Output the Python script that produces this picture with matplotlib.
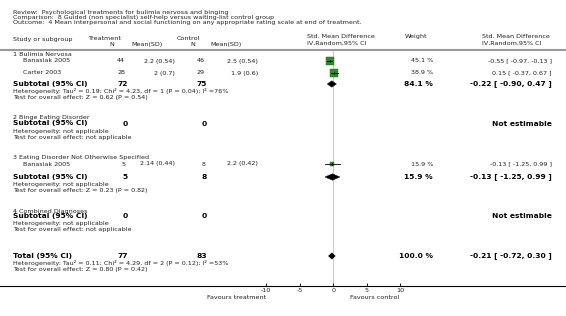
import matplotlib
matplotlib.use("Agg")
import matplotlib.pyplot as plt
from matplotlib.patches import Polygon

# ---------------- data ----------------
title_lines = [
    "Review:  Psychological treatments for bulimia nervosa and binging",
    "Comparison:  8 Guided (non specialist) self-help versus waiting-list control group",
    "Outcome:  4 Mean interpersonal and social functioning on any appropriate rating scale at end of treatment.",
]
subgroups = ["1 Bulimia Nervosa", "2 Binge Eating Disorder",
             "3 Eating Disorder Not Otherwise Specified", "4 Combined Diagnoses"]
study_names = ["Banasiak 2005", "Carter 2003", "Banasiak 2005"]
study_group = [0, 0, 2]
trt_n = [44, 28, 5]
trt_mean_sd = ["2.2 (0.54)", "2 (0.7)", "2.14 (0.44)"]
ctl_n = [46, 29, 8]
ctl_mean_sd = ["2.5 (0.54)", "1.9 (0.6)", "2.2 (0.42)"]
smd = [-0.55, 0.15, -0.13]
ci_lo = [-0.97, -0.37, -1.25]
ci_hi = [-0.13, 0.67, 0.99]
weights = [45.1, 38.9, 15.9]

sub_trt_n = [72, 0, 5, 0]
sub_ctl_n = [75, 0, 8, 0]
sub_est = [-0.22, None, -0.13, None]
sub_lo = [-0.90, None, -1.25, None]
sub_hi = [0.47, None, 0.99, None]
sub_weight = [84.1, None, 15.9, None]
sub_het = ["Heterogeneity: Tau\u00b2 = 0.19; Chi\u00b2 = 4.23, df = 1 (P = 0.04); I\u00b2 =76%",
           "Heterogeneity: not applicable",
           "Heterogeneity: not applicable",
           "Heterogeneity: not applicable"]
sub_test = ["Test for overall effect: Z = 0.62 (P = 0.54)",
            "Test for overall effect: not applicable",
            "Test for overall effect: Z = 0.23 (P = 0.82)",
            "Test for overall effect: not applicable"]

total_trt_n = 77
total_ctl_n = 83
total_est = -0.21
total_lo = -0.72
total_hi = 0.30
total_weight = 100.0
total_het = "Heterogeneity: Tau\u00b2 = 0.11; Chi\u00b2 = 4.29, df = 2 (P = 0.12); I\u00b2 =53%"
total_test = "Test for overall effect: Z = 0.80 (P = 0.42)"

axis_ticks = [-10, -5, 0, 5, 10]
favours_left = "Favours treatment"
favours_right = "Favours control"

# ---------------- layout ----------------
W, H = 566, 316
fig = plt.figure(figsize=(W / 100, H / 100), dpi=100)
fig.patch.set_facecolor("white")

PX_PER_UNIT = (400 - 266) / 20.0
ZERO_PX = 333.3
xl = -ZERO_PX / PX_PER_UNIT
xr = (W - ZERO_PX) / PX_PER_UNIT

# text / layout axes (pixel coordinates)
tx = fig.add_axes([0, 0, 1, 1])
tx.set_xlim(0, W)
tx.set_ylim(H, 0)
tx.axis("off")

# data axes (effect size on x, pixel rows on y)
ax = fig.add_axes([0, 0, 1, 1])
ax.set_xlim(xl, xr)
ax.set_ylim(H, 0)
ax.axis("off")
ax.patch.set_alpha(0)

FS = 4.55
FSB = 5.4
TC = "#222222"

def t(x, y, s, ha="left", bold=False, size=None):
    tx.text(x, y, s, ha=ha, va="center", fontsize=size or (FSB if bold else FS),
            fontweight="bold" if bold else "normal",
            color="black" if bold else TC, family="DejaVu Sans")

# title
for i, line in enumerate(title_lines):
    t(13, 12.7 + i * 4.9, line)

# headers
t(13, 39.5, "Study or subgroup")
t(104, 38.5, "Treatment", ha="center")
t(112, 44.5, "N", ha="center")
t(147, 44.5, "Mean(SD)", ha="center")
t(188, 38.5, "Control", ha="center")
t(193, 44.5, "N", ha="center")
t(226, 44.5, "Mean(SD)", ha="center")
t(307, 36.7, "Std. Mean Difference")
t(307, 43.5, "IV,Random,95% CI")
t(405, 36.7, "Weight")
t(550, 36.7, "Std. Mean Difference", ha="right")
t(541, 43.5, "IV,Random,95% CI", ha="right")
tx.plot([0, W], [49.8, 49.8], color="#9a9a9a", lw=1.5, solid_capstyle="butt")

# vertical line of no effect
ax.plot([0, 0], [50.5, 286], color="#c8c8c8", lw=0.8, zorder=1)

# rows
header_y = [55, 118, 158, 211]
subtotal_y = [84, 123.5, 177, 216]
study_y = [61, 73, 164]

SQ_MAX = 5.8  # marker size (pt) for the largest weight
GREEN = "#2a8c2a"

for g in range(4):
    t(13, header_y[g], subgroups[g])

for i in range(len(study_names)):
    y = study_y[i]
    t(23, y, study_names[i])
    t(125, y, str(trt_n[i]), ha="right")
    t(175, y, trt_mean_sd[i], ha="right")
    t(205, y, str(ctl_n[i]), ha="right")
    t(258, y, ctl_mean_sd[i], ha="right")
    t(433, y, f"{weights[i]:.1f} %", ha="right")
    t(552, y, f"{smd[i]:.2f} [ {ci_lo[i]:.2f}, {ci_hi[i]:.2f} ]", ha="right")
    ax.plot([ci_lo[i], ci_hi[i]], [y, y], color="black", lw=0.6, zorder=3)
    ms = SQ_MAX * (weights[i] / max(weights)) ** 0.5
    ax.plot([smd[i]], [y], marker="s", ms=ms, mfc=GREEN, mec="#1d6e1d",
            mew=0.3, zorder=2)
    ax.plot([smd[i], smd[i]], [y - 1.3, y + 1.3], color="black", lw=0.5, zorder=3)

DH = 3.2
for g in range(4):
    y = subtotal_y[g]
    t(13, y, "Subtotal (95% CI)", bold=True)
    t(128, y, str(sub_trt_n[g]), ha="right", bold=True)
    t(207, y, str(sub_ctl_n[g]), ha="right", bold=True)
    t(13, y + 7.5, sub_het[g])
    t(13, y + 13.5, sub_test[g])
    if sub_est[g] is not None:
        t(433, y, f"{sub_weight[g]:.1f} %", ha="right", bold=True)
        t(552, y, f"{sub_est[g]:.2f} [ {sub_lo[g]:.2f}, {sub_hi[g]:.2f} ]",
          ha="right", bold=True)
        ax.add_patch(Polygon([[sub_lo[g], y], [sub_est[g], y - DH],
                              [sub_hi[g], y], [sub_est[g], y + DH]],
                             closed=True, fc="black", ec="black", lw=0.3, zorder=4))
    else:
        t(552, y, "Not estimable", ha="right", bold=True)

# total
ty = 256
t(13, ty, "Total (95% CI)", bold=True)
t(128, ty, str(total_trt_n), ha="right", bold=True)
t(207, ty, str(total_ctl_n), ha="right", bold=True)
t(13, ty + 7.5, total_het)
t(13, ty + 13.5, total_test)
t(433, ty, f"{total_weight:.1f} %", ha="right", bold=True)
t(552, ty, f"{total_est:.2f} [ {total_lo:.2f}, {total_hi:.2f} ]", ha="right", bold=True)
ax.add_patch(Polygon([[total_lo, ty], [total_est, ty - DH],
                      [total_hi, ty], [total_est, ty + DH]],
                     closed=True, fc="black", ec="black", lw=0.3, zorder=4))

# x axis
axy = 286
xa = fig.add_axes([0, (H - axy) / H, 1, 0.0001])
xa.set_xlim(xl, xr)
xa.set_yticks([])
for s in ["top", "left", "right"]:
    xa.spines[s].set_visible(False)
xa.spines["bottom"].set_linewidth(0.8)
xa.patch.set_alpha(0)
xa.set_xticks(axis_ticks)
xa.set_xticklabels([str(v) for v in axis_ticks])
xa.tick_params(axis="x", direction="in", length=2.5, width=0.6, pad=1.8,
               labelsize=FS, labelcolor=TC)

t(266, 297.5, favours_left, ha="right")
t(350, 297.5, favours_right, ha="left")

fig.savefig("out.png", dpi=100, facecolor="white")
